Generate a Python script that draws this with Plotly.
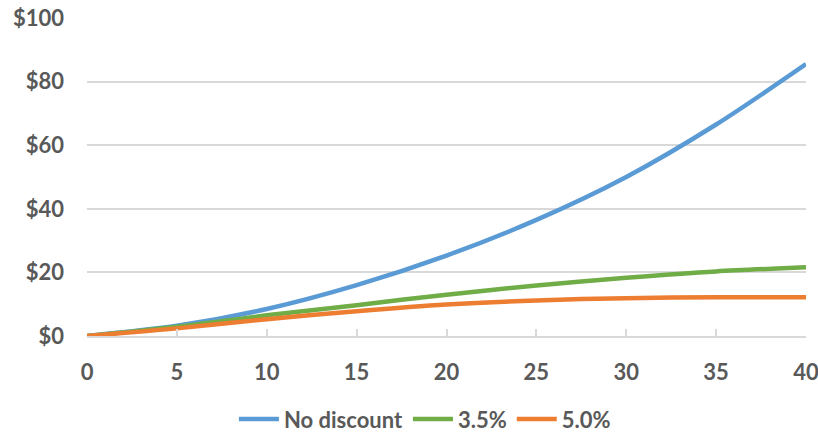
import plotly.graph_objects as go

# Cumulative value by year, undiscounted and at two discount rates
years = [0, 5, 10, 15, 20, 25, 30, 35, 40]
no_discount = [0, 3.2, 8.5, 16.0, 25.3, 36.5, 50.0, 66.5, 85.5]
rate_35 = [0, 2.9, 6.5, 9.7, 13.0, 15.9, 18.3, 20.3, 21.6]
rate_50 = [0, 2.4, 5.3, 7.8, 9.9, 11.2, 11.9, 12.2, 12.2]

y_ticks = [0, 20, 40, 60, 80, 100]
y_tick_labels = ["$0", "$20", "$40", "$60", "$80", "$100"]
x_ticks = [0, 5, 10, 15, 20, 25, 30, 35, 40]

series = [
    ("No discount", no_discount, "#5B9BD5"),
    ("3.5%", rate_35, "#70AD47"),
    ("5.0%", rate_50, "#ED7D31"),
]

text_color = "#595959"
grid_color = "#D9D9D9"
font_family = "Lato"
font_size = 22

fig = go.Figure()
for name, values, color in series:
    fig.add_trace(go.Scatter(
        x=years, y=values, name=name, mode="lines",
        line=dict(color=color, width=4.5, shape="spline", smoothing=0.8),
    ))

fig.update_layout(
    width=818, height=433,
    margin=dict(l=87, r=12, t=18, b=97),
    paper_bgcolor="white", plot_bgcolor="white",
    font=dict(family=font_family, size=font_size, color=text_color, weight="bold"),
    showlegend=True,
    legend=dict(
        orientation="h", x=0.47, xanchor="center",
        yref="container", y=0.032, yanchor="middle",
        font=dict(family=font_family, size=font_size, color=text_color, weight="bold"),
        itemwidth=40, traceorder="normal", bgcolor="rgba(0,0,0,0)",
    ),
)

fig.update_xaxes(
    range=[-0.0001, 40.0001], tickvals=x_ticks, ticktext=[str(v) for v in x_ticks],
    showgrid=False, zeroline=False,
    showline=True, linecolor=grid_color, linewidth=1.5,
    ticks="inside", ticklen=7, tickcolor=grid_color, tickwidth=1.5,
    ticklabelstandoff=16, automargin=False, ticklabeloverflow="allow",
    tickfont=dict(family=font_family, size=font_size, color=text_color, weight="bold"),
)
fig.update_yaxes(
    range=[0, 100], tickvals=y_ticks, ticktext=y_tick_labels,
    showgrid=True, gridcolor=grid_color, gridwidth=1.5,
    zeroline=False, showline=False,
    ticklabelstandoff=22, automargin=False, ticklabeloverflow="allow",
    tickfont=dict(family=font_family, size=font_size, color=text_color, weight="bold"),
)

fig.write_html("out.html")
